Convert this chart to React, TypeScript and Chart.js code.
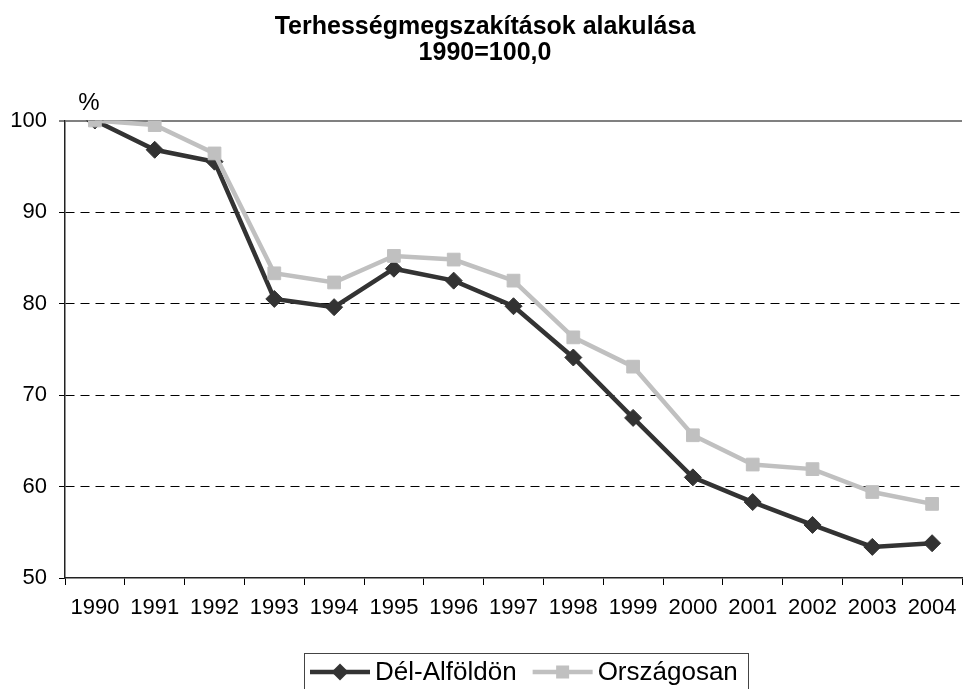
import React, { useEffect, useRef } from "react";
import { Chart, registerables } from "chart.js";

Chart.register(...registerables);

const years = ["1990", "1991", "1992", "1993", "1994", "1995", "1996", "1997", "1998", "1999", "2000", "2001", "2002", "2003", "2004"];
const delAlfoldon = [100, 96.8, 95.5, 80.5, 79.6, 83.8, 82.5, 79.7, 74.1, 67.5, 61.0, 58.3, 55.8, 53.4, 53.8];
const orszagosan = [100, 99.5, 96.4, 83.3, 82.3, 85.2, 84.8, 82.5, 76.3, 73.1, 65.6, 62.4, 61.9, 59.4, 58.1];
const titleLines = ["Terhességmegszakítások alakulása", "1990=100,0"];
const seriesNames = ["Dél-Alföldön", "Országosan"];
const yMin = 50;
const yMax = 100;
const yStep = 10;

const FONT = "'Liberation Sans', Arial, sans-serif";
const DARK = "#333333";
const LIGHT = "#c0c0c0";

const extrasPlugin = {
  id: "extras",
  afterDraw(chart: any) {
    const ctx = chart.ctx;
    const area = chart.chartArea;
    ctx.save();
    // percent sign
    ctx.fillStyle = "#000";
    ctx.font = `24px ${FONT}`;
    ctx.textAlign = "center";
    ctx.textBaseline = "middle";
    ctx.fillText("%", area.left + 24, area.top - 17);

    // legend
    const legTop = 653.5;
    const legLeft = 304.5;
    const cy = 672;
    ctx.font = `26px ${FONT}`;
    ctx.textAlign = "left";
    const drawItem = (x: number, color: string, style: string, label: string) => {
      ctx.strokeStyle = color;
      ctx.lineWidth = 4.5;
      ctx.beginPath();
      ctx.moveTo(x, cy);
      ctx.lineTo(x + 60, cy);
      ctx.stroke();
      ctx.fillStyle = color;
      const mx = x + 30;
      if (style === "diamond") {
        const r = 8.5;
        ctx.beginPath();
        ctx.moveTo(mx, cy - r);
        ctx.lineTo(mx + r, cy);
        ctx.lineTo(mx, cy + r);
        ctx.lineTo(mx - r, cy);
        ctx.closePath();
        ctx.fill();
      } else {
        const s = 6.5;
        ctx.fillRect(mx - s, cy - s, 2 * s, 2 * s);
      }
      ctx.fillStyle = "#000";
      ctx.fillText(label, x + 65, cy + 1);
      return x + 65 + ctx.measureText(label).width;
    };
    const end1 = drawItem(310, DARK, "diamond", seriesNames[0]);
    const end2 = drawItem(end1 + 16, LIGHT, "square", seriesNames[1]);
    ctx.strokeStyle = "#444";
    ctx.lineWidth = 1;
    ctx.strokeRect(legLeft, legTop, Math.round(end2 + 10) - legLeft + 0.5, 60);
    ctx.restore();
  },
};

export default function App() {
  const ref = useRef<HTMLCanvasElement | null>(null);
  useEffect(() => {
    if (!ref.current) return;
    const chart = new Chart(ref.current, {
      type: "line",
      data: {
        labels: years,
        datasets: [
          {
            label: seriesNames[0],
            data: delAlfoldon,
            borderColor: DARK,
            backgroundColor: DARK,
            borderWidth: 4.5,
            pointStyle: "rectRot",
            pointRadius: 8.5,
            pointBorderWidth: 1,
            pointBorderColor: DARK,
            pointBackgroundColor: DARK,
            tension: 0,
            order: 1,
          },
          {
            label: seriesNames[1],
            data: orszagosan,
            borderColor: LIGHT,
            backgroundColor: LIGHT,
            borderWidth: 4.5,
            pointStyle: "rect",
            pointRadius: 9,
            pointBorderWidth: 1,
            pointBorderColor: LIGHT,
            pointBackgroundColor: LIGHT,
            tension: 0,
            order: 0,
          },
        ],
      },
      options: {
        responsive: false,
        animation: false,
        layout: { padding: { left: 0, right: 2, top: 0, bottom: 0 } },
        plugins: {
          legend: { display: false },
          tooltip: { enabled: false },
          title: {
            display: true,
            text: titleLines,
            color: "#000",
            font: { family: FONT, size: 25, weight: "bold", lineHeight: 1.05 },
            padding: { top: 14, bottom: 54 },
          },
        },
        scales: {
          x: {
            type: "category",
            offset: true,
            grid: {
              offset: true,
              drawOnChartArea: false,
              drawTicks: true,
              tickLength: 7,
              tickColor: "#000",
              tickWidth: 1,
            },
            border: { display: true, color: "#222", width: 1.5 },
            ticks: {
              color: "#000",
              font: { family: FONT, size: 22 },
              padding: 10,
              maxRotation: 0,
              autoSkip: false,
            },
            afterFit: (s: any) => {
              s.height = 111;
            },
          },
          y: {
            min: yMin,
            max: yMax,
            ticks: {
              stepSize: yStep,
              color: "#000",
              font: { family: FONT, size: 22 },
              padding: 12,
            },
            grid: {
              drawTicks: true,
              tickLength: 6,
              tickColor: "#000",
              tickWidth: 1,
              color: (c: any) => {
                const v = c.tick ? c.tick.value : null;
                if (v === yMax) return "#808080";
                if (v === yMin) return "rgba(0,0,0,0)";
                return "#000";
              },
              lineWidth: (c: any) => (c.tick && c.tick.value === yMax ? 2 : 1),
            },
            border: {
              display: true,
              color: "#222",
              width: 1.5,
              dash: (c: any) => (c.tick && c.tick.value !== yMax ? [9, 6] : []),
            },
            afterFit: (s: any) => {
              s.width = 65;
            },
          },
        },
      },
      plugins: [extrasPlugin],
    } as any);
    return () => chart.destroy();
  }, []);
  return (
    <canvas
      ref={ref}
      width={972}
      height={689}
      style={{ position: "absolute", left: 0, top: 0, width: 972, height: 689 }}
    />
  );
}
